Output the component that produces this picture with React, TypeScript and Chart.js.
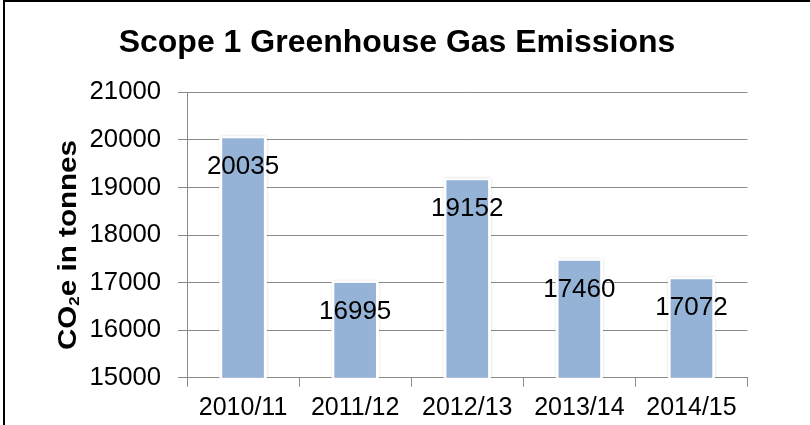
import { useEffect, useRef } from 'react';
import { Chart, registerables } from 'chart.js';

Chart.register(...registerables);

// ---- data ----
const categories: string[] = ['2010/11', '2011/12', '2012/13', '2013/14', '2014/15'];
const emissions: number[] = [20035, 16995, 19152, 17460, 17072];
const yMin = 15000;
const yMax = 21000;
const yStep = 1000;
const chartTitle = 'Scope 1 Greenhouse Gas Emissions';
const yTitleMain = 'CO';
const yTitleSub = '2';
const yTitleRest = 'e in tonnes';

const FONT = 'Arial, "Liberation Sans", sans-serif';
const GRID = '#8a8a8a';
const BAR = '#95B3D7';

const framePlugin = {
  id: 'frame',
  beforeDraw(chart: any) {
    const ctx = chart.ctx;
    ctx.save();
    ctx.fillStyle = '#ffffff';
    ctx.fillRect(0, 0, chart.width, chart.height);
    ctx.fillStyle = '#000000';
    ctx.fillRect(3, 0, chart.width - 3, 2);
    ctx.fillRect(3, 0, 2, chart.height);
    ctx.restore();
  },
};

const textPlugin = {
  id: 'texts',
  afterDraw(chart: any) {
    const ctx = chart.ctx;
    ctx.save();
    // title
    ctx.fillStyle = '#000';
    ctx.font = `bold 32px ${FONT}`;
    ctx.textAlign = 'center';
    ctx.textBaseline = 'alphabetic';
    ctx.fillText(chartTitle, 397, 51.5);

    // y axis title with subscript
    const mainFont = `bold 26px ${FONT}`;
    const subFont = `bold 15px ${FONT}`;
    ctx.font = mainFont;
    const w1 = ctx.measureText(yTitleMain).width;
    const w3 = ctx.measureText(yTitleRest).width;
    ctx.font = subFont;
    const w2 = ctx.measureText(yTitleSub).width;
    const total = w1 + w2 + w3;
    const target = 210;
    ctx.translate(76, 245);
    ctx.rotate(-Math.PI / 2);
    ctx.scale(target / total, 1);
    ctx.textAlign = 'left';
    let x0 = -total / 2;
    ctx.font = mainFont;
    ctx.fillText(yTitleMain, x0, 0);
    x0 += w1;
    ctx.font = subFont;
    ctx.fillText(yTitleSub, x0, 3);
    x0 += w2;
    ctx.font = mainFont;
    ctx.fillText(yTitleRest, x0, 0);
    ctx.restore();
  },
};

const barDecorPlugin = {
  id: 'barDecor',
  beforeDatasetsDraw(chart: any) {
    const ctx = chart.ctx;
    const area = chart.chartArea;
    const meta = chart.getDatasetMeta(0);
    ctx.save();
    ctx.beginPath();
    ctx.rect(area.left, area.top - 10, area.right - area.left, area.bottom - area.top + 10);
    ctx.clip();
    meta.data.forEach((el: any) => {
      const p = el.getProps(['x', 'y', 'base', 'width'], true);
      ctx.shadowColor = 'rgba(0,0,0,0.22)';
      ctx.shadowBlur = 3;
      ctx.fillStyle = '#ffffff';
      ctx.fillRect(p.x - p.width / 2, p.y - 2, p.width, p.base - p.y + 2);
    });
    ctx.restore();
  },
  afterDatasetsDraw(chart: any) {
    const ctx = chart.ctx;
    const meta = chart.getDatasetMeta(0);
    const data = chart.data.datasets[0].data;
    ctx.save();
    ctx.fillStyle = '#000';
    ctx.font = `26px ${FONT}`;
    ctx.textAlign = 'center';
    ctx.textBaseline = 'middle';
    meta.data.forEach((el: any, i: number) => {
      const p = el.getProps(['x', 'y'], true);
      ctx.fillText(String(data[i]), p.x, p.y + 29);
    });
    ctx.restore();
  },
};

export default function App() {
  const ref = useRef<HTMLCanvasElement>(null);

  useEffect(() => {
    document.body.style.margin = '0';
    const chart = new Chart(ref.current as HTMLCanvasElement, {
      type: 'bar',
      data: {
        labels: categories,
        datasets: [
          {
            data: emissions,
            backgroundColor: BAR,
            borderColor: '#ffffff',
            borderWidth: { top: 0, left: 3, right: 3, bottom: 0 },
            borderSkipped: false,
            barThickness: 47,
          },
        ],
      },
      options: {
        responsive: false,
        animation: false,
        devicePixelRatio: 1,
        layout: { padding: { left: 0, right: 62.5, top: 92.3, bottom: 0 } },
        plugins: {
          legend: { display: false },
          tooltip: { enabled: false },
          title: { display: false },
        },
        scales: {
          x: {
            offset: true,
            grid: {
              display: true,
              drawOnChartArea: false,
              drawTicks: true,
              tickLength: 9,
              color: GRID,
              offset: true,
            },
            border: { display: true, color: GRID },
            ticks: {
              color: '#000',
              font: { family: FONT, size: 25 },
              padding: 6,
              maxRotation: 0,
              autoSkip: false,
            },
            afterFit: (s: any) => {
              s.height = 47.3;
            },
          },
          y: {
            min: yMin,
            max: yMax,
            grid: { color: GRID, tickLength: 9, drawTicks: true },
            border: { display: true, color: GRID },
            ticks: {
              stepSize: yStep,
              color: '#000',
              font: { family: FONT, size: 25.7 },
              padding: 17,
              callback: (v: any) => String(v),
            },
            afterFit: (s: any) => {
              s.width = 187;
            },
          },
        },
      },
      plugins: [framePlugin, barDecorPlugin, textPlugin],
    });
    return () => chart.destroy();
  }, []);

  return (
    <div style={{ width: 810, height: 425, position: 'relative' }}>
      <canvas ref={ref} width={810} height={425} style={{ display: 'block' }} />
    </div>
  );
}
